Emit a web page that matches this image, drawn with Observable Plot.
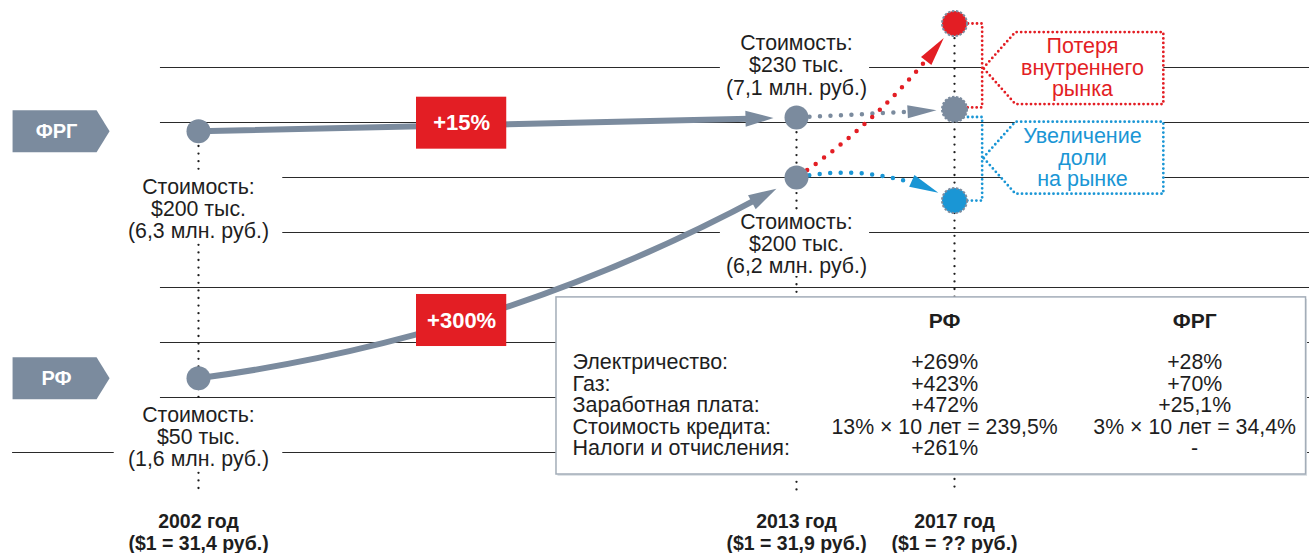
<!DOCTYPE html>
<html><head><meta charset="utf-8">
<script src="https://cdn.jsdelivr.net/npm/d3@7"></script>
<script src="https://cdn.jsdelivr.net/npm/@observablehq/plot@0.6"></script>
<style>body{margin:0;background:#fff}svg{display:block}</style>
</head><body><div id="chart"></div>
<script>
// ---------- DATA ----------
const countries = ["ФРГ", "РФ"];
const years = [2002, 2013, 2017];
const yearNames = ["2002 год", "2013 год", "2017 год"];
const yearRates = ["($1 = 31,4 руб.)", "($1 = 31,9 руб.)", "($1 = ?? руб.)"];
// schematic vertical position (row units) of each country's point
const pos2002 = [1.16, 5.65];
const pos2013 = [0.91, 2.0];
const cost2002 = ["Стоимость:\n$200 тыс.\n(6,3 млн. руб.)", "Стоимость:\n$50 тыс.\n(1,6 млн. руб.)"];
const cost2013 = ["Стоимость:\n$230 тыс.\n(7,1 млн. руб.)", "Стоимость:\n$200 тыс.\n(6,2 млн. руб.)"];
const growth = ["+15%", "+300%"];
// 2017 scenarios: RF loses domestic market / FRG baseline / RF grows market share
const scenarioNames = ["Потеря\nвнутреннего\nрынка", "", "Увеличение\nдоли\nна рынке"];
const pos2017 = [-0.8, 0.76, 2.42];
const tableCols = ["РФ", "ФРГ"];
const tableItems = ["Электричество:", "Газ:", "Заработная плата:", "Стоимость кредита:", "Налоги и отчисления:"];
const tableRF = ["+269%", "+423%", "+472%", "13% × 10 лет = 239,5%", "+261%"];
const tableFRG = ["+28%", "+70%", "+25,1%", "3% × 10 лет = 34,4%", "-"];

// ---------- STYLE / LAYOUT ----------
const FONT = "'Liberation Sans', Arial, Helvetica, sans-serif";
const GREY = "#7b8b9e", RED = "#e31e24", BLUE = "#1a96d5", INK = "#1e1e1e";
const xDomain = [2002, 2013, 2017], xRange = [198, 796, 954];
const yDomain = [0, 7], yRange = [67, 452];
const xs = Plot.scale({x: {type: "linear", domain: xDomain, range: xRange}});
const ys = Plot.scale({y: {type: "linear", domain: yDomain, range: yRange}});

const LAY = {
  rows: d3.range(0, 8), gridX1: 2001.3, gridX1Last: 1998.58, gridX2: 2026,
  tagX: 1998.58,
  label2002: [2.57, 6.72], bg2002: [[1.87, 3.17], [6.04, 7.27]], bgX2002: [2000.45, 2003.55],
  label2013: [-0.04, 3.21], bg2013: [[-0.65, 0.55], [2.6, 3.8]], bgX2013: [2011.6, 2014.85],
  growthX: [2006.01, 2007.67], growthY: [[0.54, 1.485], [4.127, 5.073]],
  calloutX: 2017.73, calloutTextX: 2020.24, calloutY: [0.01, 1.64], bracketX: 2017.7,
  vertY2: 7.75, yearNameY: 8.26, yearRateY: 8.65,
  table: {x1: 2008.585, x2: 2025.9, y1: 4.18, y2: 7.4, labelX: 2008.88, colX: [2016.75, 2023.08], headY: 4.62, rowY0: 5.364, rowStep: 0.391}
};

// ---------- DERIVED ----------
const points = [
  ...countries.map((c, i) => ({year: 2002, pos: pos2002[i], fill: GREY})),
  ...countries.map((c, i) => ({year: 2013, pos: pos2013[i], fill: GREY})),
];
const points2017 = [
  {year: 2017, pos: pos2017[0], fill: RED},
  {year: 2017, pos: pos2017[1], fill: GREY},
  {year: 2017, pos: pos2017[2], fill: BLUE}
];
const STY = {
  solid: {sw: 6, dash: null, headLen: 28, headWid: 16, startInset: 0, tipInset: 23, shaftEnd: 14},
  dotted: {sw: 4.5, dash: "0 10.5", headLen: 29, headWid: 13, startInset: 13, tipInset: 18, shaftEnd: 31}
};
const arrows = [
  {x1: 2002, y1: pos2002[0], x2: 2013, y2: pos2013[0], bend: 0, kind: "solid", color: GREY},
  {x1: 2002, y1: pos2002[1], x2: 2013, y2: pos2013[1], bend: -11, kind: "solid", color: GREY},
  {x1: 2013, y1: pos2013[0], x2: 2017, y2: pos2017[1], bend: 0, kind: "dotted", color: GREY},
  {x1: 2013, y1: pos2013[1], x2: 2017, y2: pos2017[0], bend: -10, kind: "dotted", color: RED},
  {x1: 2013, y1: pos2013[1], x2: 2017, y2: pos2017[2], bend: 20, kind: "dotted", color: BLUE}
];
function headOf(a) {
  const st = STY[a.kind];
  const X1 = xs.apply(a.x1), Y1 = ys.apply(a.y1), X2 = xs.apply(a.x2), Y2 = ys.apply(a.y2);
  const ang = Math.atan2(Y2 - Y1, X2 - X1), len = Math.hypot(X2 - X1, Y2 - Y1);
  const b = a.bend * Math.PI / 180, e = st.tipInset;
  let tx, ty, h;
  if (!b) { tx = X2 - e * Math.cos(ang); ty = Y2 - e * Math.sin(ang); h = ang; }
  else {
    const r = len / (2 * Math.abs(Math.sin(b))), s = Math.sign(b), h2 = ang + b;
    const cx = X2 - s * r * Math.sin(h2), cy = Y2 + s * r * Math.cos(h2);
    const d = 2 * Math.asin(e / (2 * r)), psi = Math.atan2(Y2 - cy, X2 - cx) - s * d;
    tx = cx + r * Math.cos(psi); ty = cy + r * Math.sin(psi); h = h2 - s * d;
  }
  return {x: xs.invert(tx), y: ys.invert(ty), angle: h * 180 / Math.PI};
}
const headSymbol = (len, wid) => ({draw(ctx) { ctx.moveTo(0, 0); ctx.lineTo(-len, -wid / 2); ctx.lineTo(-len, wid / 2); ctx.closePath(); }});
const tagSymbol = {draw(ctx) { ctx.moveTo(0, -21); ctx.lineTo(84, -21); ctx.lineTo(97, 0); ctx.lineTo(84, 21); ctx.lineTo(0, 21); ctx.closePath(); }};
const calloutSymbol = {draw(ctx) { ctx.moveTo(0, 0); ctx.lineTo(32, -36); ctx.lineTo(180, -36); ctx.lineTo(180, 36); ctx.lineTo(32, 36); ctx.closePath(); }};

const brackets = [
  {c: RED, pts: [[2017, pos2017[0]], [LAY.bracketX, pos2017[0]], [LAY.bracketX, pos2017[1] - 0.035], [2017, pos2017[1] - 0.035]]},
  {c: BLUE, pts: [[2017, pos2017[1] + 0.14], [LAY.bracketX, pos2017[1] + 0.14], [LAY.bracketX, pos2017[2]], [2017, pos2017[2]]]}
];
const bracketData = brackets.flatMap((b, k) => b.pts.map(([x, y]) => ({x, y, k, c: b.c})));

const T = LAY.table;
const tableRowsY = tableItems.map((_, i) => T.rowY0 + i * T.rowStep);

const dotted = {strokeDasharray: "0 4.5", strokeLinecap: "round", strokeWidth: 2.8};

const marks = [
  // grid
  Plot.ruleY(LAY.rows.slice(0, 7), {y: d => d, x1: LAY.gridX1, x2: LAY.gridX2, stroke: "#2a2a2a", strokeWidth: 1.1}),
  Plot.ruleY(LAY.rows.slice(7), {y: d => d, x1: LAY.gridX1Last, x2: LAY.gridX2, stroke: "#2a2a2a", strokeWidth: 1.1}),
  // vertical dotted year lines
  Plot.ruleX(years, {x: d => d, y1: (d, i) => [pos2002[0], pos2013[0], pos2017[0]][i], y2: LAY.vertY2,
    stroke: INK, strokeWidth: 2.3, strokeDasharray: "0 7.6", strokeLinecap: "round"}),
  // white backgrounds behind cost labels
  Plot.rect(LAY.bg2002, {x1: LAY.bgX2002[0], x2: LAY.bgX2002[1], y1: d => d[0], y2: d => d[1], fill: "white"}),
  Plot.rect(LAY.bg2013, {x1: LAY.bgX2013[0], x2: LAY.bgX2013[1], y1: d => d[0], y2: d => d[1], fill: "white"}),
  // arrow shafts and heads
  ...arrows.flatMap(a => {
    const st = STY[a.kind], h = headOf(a);
    return [
      Plot.arrow([a], {x1: "x1", y1: "y1", x2: "x2", y2: "y2", bend: a.bend, headLength: 0,
        insetStart: st.startInset, insetEnd: st.tipInset + st.shaftEnd,
        stroke: a.color, strokeWidth: st.sw, strokeDasharray: st.dash, strokeLinecap: "round"}),
      Plot.dot([h], {x: "x", y: "y", rotate: "angle", symbol: headSymbol(st.headLen, st.headWid), fill: a.color, stroke: "none"})
    ];
  }),
  // brackets to callouts
  Plot.line(bracketData, {x: "x", y: "y", z: "k", stroke: "c", ...dotted}),
  // points
  Plot.dot(points, {x: "year", y: "pos", r: 12, fill: "fill"}),
  Plot.dot(points2017, {x: "year", y: "pos", r: 12.5, fill: "fill", stroke: GREY, strokeWidth: 2, strokeDasharray: "2.4 1.6"}),
  // growth boxes
  Plot.rect(LAY.growthY, {x1: LAY.growthX[0], x2: LAY.growthX[1], y1: d => d[0], y2: d => d[1], fill: RED}),
  Plot.text(growth, {x: (LAY.growthX[0] + LAY.growthX[1]) / 2, y: (d, i) => (LAY.growthY[i][0] + LAY.growthY[i][1]) / 2,
    text: d => d, fill: "white", fontWeight: "bold", fontSize: 22}),
  // callouts
  Plot.dot([0, 2], {x: LAY.calloutX, y: (d, i) => LAY.calloutY[i], symbol: calloutSymbol, fill: "white",
    stroke: (d, i) => [RED, BLUE][i], ...dotted}),
  Plot.text([0, 2], {x: LAY.calloutTextX, y: (d, i) => LAY.calloutY[i], text: d => scenarioNames[d],
    fill: (d, i) => [RED, BLUE][i], fontSize: 21.5, lineHeight: 1.0}),
  // country tags
  Plot.dot(countries, {x: LAY.tagX, y: (d, i) => pos2002[i], symbol: tagSymbol, fill: GREY}),
  Plot.text(countries, {x: LAY.tagX, y: (d, i) => pos2002[i], dx: 44, text: d => d, fill: "white", fontWeight: "bold", fontSize: 20}),
  // cost labels
  Plot.text(cost2002, {x: 2002, y: (d, i) => LAY.label2002[i], text: d => d, fill: INK, fontSize: 21.3, lineHeight: 1.04}),
  Plot.text(cost2013, {x: 2013, y: (d, i) => LAY.label2013[i], text: d => d, fill: INK, fontSize: 21.3, lineHeight: 1.04}),
  // table
  Plot.rect([T], {x1: "x1", x2: "x2", y1: "y1", y2: "y2", fill: "#dfe3e7", dx: 1.5, dy: 2}),
  Plot.rect([T], {x1: "x1", x2: "x2", y1: "y1", y2: "y2", fill: "white", stroke: "#a3adb8", strokeWidth: 1.5}),
  Plot.text(tableCols, {x: (d, i) => T.colX[i], y: T.headY, text: d => d, fill: INK, fontWeight: "bold", fontSize: 21}),
  Plot.text(tableItems, {x: T.labelX, y: (d, i) => tableRowsY[i], text: d => d, textAnchor: "start", fill: INK, fontSize: 21.5}),
  Plot.text(tableRF, {x: T.colX[0], y: (d, i) => tableRowsY[i], text: d => d, fill: INK, fontSize: 21.3}),
  Plot.text(tableFRG, {x: T.colX[1], y: (d, i) => tableRowsY[i], text: d => d, fill: INK, fontSize: 21.3}),
  // year notes
  Plot.text(yearNames, {x: (d, i) => years[i], y: LAY.yearNameY, text: d => d, fill: INK, fontWeight: "bold", fontSize: 19.5}),
  Plot.text(yearRates, {x: (d, i) => years[i], y: LAY.yearRateY, text: d => d, fill: INK, fontWeight: "bold", fontSize: 19.5})
];

const chart = Plot.plot({
  width: 1309, height: 553,
  marginLeft: 0, marginRight: 0, marginTop: 0, marginBottom: 0,
  x: {type: "linear", domain: xDomain, range: xRange, axis: null},
  y: {type: "linear", domain: yDomain, range: yRange, axis: null},
  style: {fontFamily: FONT, background: "white", overflow: "visible"},
  marks
});
document.getElementById("chart").append(chart);
</script></body></html>
